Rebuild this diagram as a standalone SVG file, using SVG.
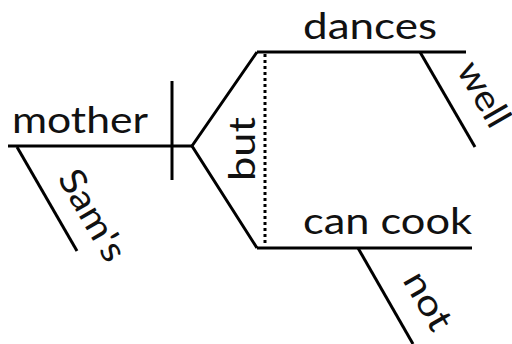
<svg xmlns="http://www.w3.org/2000/svg" width="512" height="344" viewBox="0 0 512 344">
<style>
.ln{stroke:#000;stroke-width:3;fill:none;stroke-linecap:butt}
.dot{stroke:#000;stroke-width:3;fill:none;stroke-dasharray:3 3}
.t{font-family:Lato,"Open Sans",sans-serif;font-size:36px;fill:#111}
</style>
<rect width="512" height="344" fill="#fff"/>
<g id="connectors">
<line class="ln" x1="8" y1="146" x2="192" y2="146"/>
<line class="ln" x1="172" y1="81" x2="172" y2="180"/>
<line class="ln" x1="17" y1="147" x2="77" y2="251"/>
<polyline class="ln" points="257,52 192,146 257,248"/>
<line class="ln" x1="257" y1="52" x2="466" y2="52"/>
<line class="ln" x1="420" y1="52" x2="475" y2="147"/>
<line class="ln" x1="257" y1="248" x2="472" y2="248"/>
<line class="ln" x1="358" y1="248" x2="413" y2="344"/>
<line class="dot" x1="265" y1="54" x2="265" y2="246"/>
</g>
<g id="mother"><text class="t" x="12" y="133" textLength="136" lengthAdjust="spacingAndGlyphs">mother</text></g>
<g id="sams"><text class="t" transform="translate(57,178) rotate(60)" textLength="100" lengthAdjust="spacingAndGlyphs">Sam's</text></g>
<g id="but"><text class="t" transform="translate(255,181) rotate(-90)" textLength="64" lengthAdjust="spacingAndGlyphs">but</text></g>
<g id="dances"><text class="t" x="303" y="39" textLength="134" lengthAdjust="spacingAndGlyphs">dances</text></g>
<g id="well"><text class="t" transform="translate(456,70) rotate(60)" textLength="70" lengthAdjust="spacingAndGlyphs">well</text></g>
<g id="cancook"><text class="t" x="303" y="234" textLength="169" lengthAdjust="spacingAndGlyphs">can cook</text></g>
<g id="not"><text class="t" transform="translate(402,280) rotate(60)" textLength="62" lengthAdjust="spacingAndGlyphs">not</text></g>
</svg>
